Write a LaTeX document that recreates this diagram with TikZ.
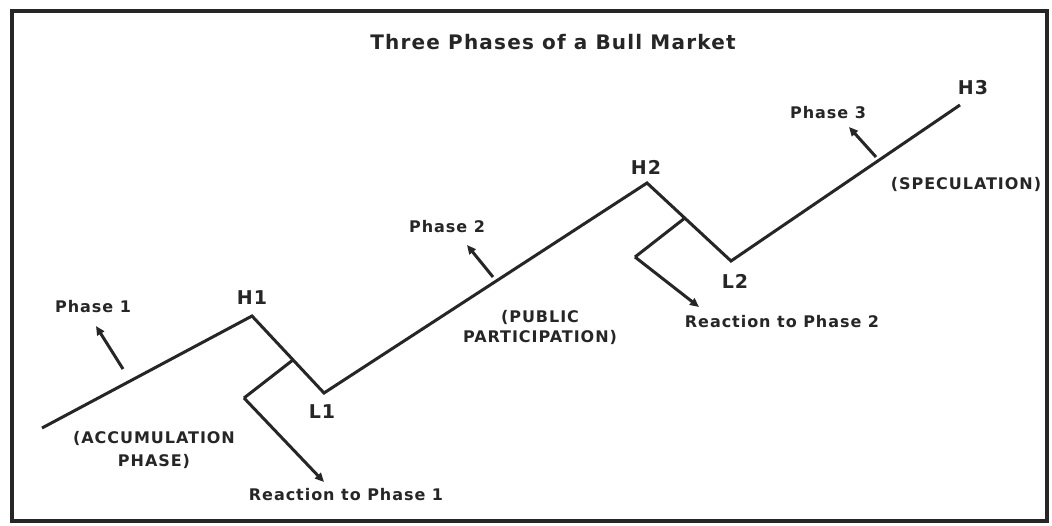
\documentclass[tikz,border=0pt]{standalone}
\usepackage{fontspec}
\setmainfont{DejaVu Sans}
\newfontfamily\lblfont[LetterSpace=6]{DejaVu Sans}
\usetikzlibrary{arrows.meta,calc}
\begin{document}
\begin{tikzpicture}[x=1pt,y=-1pt,
  trend/.style={line width=3pt,line join=miter,black!85},
  pointer/.style={line width=3pt,black!85,-{Triangle[length=9pt,width=8pt]}},
  lbl/.style={font=\lblfont\bfseries\fontsize{16}{21}\selectfont,text=black!85,inner sep=1pt,align=center},
  ptlbl/.style={font=\lblfont\bfseries\fontsize{19}{21}\selectfont,text=black!85,inner sep=1pt}]
\useasboundingbox (0,0) rectangle (1052,526);
\fill[white] (0,0) rectangle (1052,526);
\draw[line width=3.5pt,black!85] (12,11) rectangle (1047,521);
\node[font=\lblfont\bfseries\fontsize{20}{24}\selectfont,text=black!85] (title) at (553,42) {Three Phases of a Bull Market};
% main trend
\coordinate (S) at (42,428);
\coordinate (H1) at (252,316);
\coordinate (L1) at (324,393);
\coordinate (H2) at (647,183);
\coordinate (L2) at (731,261);
\coordinate (H3) at (960,105);
\draw[trend] (S) -- (H1) -- (L1) -- (H2) -- (L2) -- (H3);
% point labels
\node[ptlbl] (lH1) at (252,298) {H1};
\node[ptlbl] (lL1) at (322,412) {L1};
\node[ptlbl] (lH2) at (646,167) {H2};
\node[ptlbl] (lL2) at (735,281) {L2};
\node[ptlbl] (lH3) at (973,88) {H3};
% phase pointers
\coordinate (p1a) at (123,369);
\coordinate (p1b) at (96,326);
\draw[pointer] (p1a) -- (p1b);
\node[lbl] (ph1) at (93,307) {Phase 1};
\coordinate (p2a) at (493,277);
\coordinate (p2b) at (467,245);
\draw[pointer] (p2a) -- (p2b);
\node[lbl] (ph2) at (447,227) {Phase 2};
\coordinate (p3a) at (876,157);
\coordinate (p3b) at (849,127);
\draw[pointer] (p3a) -- (p3b);
\node[lbl] (ph3) at (828,113) {Phase 3};
% phase descriptions
\node[lbl,font=\lblfont\bfseries\fontsize{16}{23}\selectfont] (acc) at (154,450) {(ACCUMULATION\\PHASE)};
\node[lbl,font=\lblfont\bfseries\fontsize{16}{20}\selectfont] (pub) at (540,327) {(PUBLIC\\PARTICIPATION)};
\node[lbl] (spec) at (966,184) {(SPECULATION)};
% reactions
\coordinate (r1j) at ($(H1)!0.57!(L1)$);
\coordinate (r1c) at (244,398);
\coordinate (r1t) at (324,482);
\draw[trend] (r1j) -- (r1c);
\draw[pointer] (r1c) -- (r1t);
\node[lbl] (rx1) at (346,495) {Reaction to Phase 1};
\coordinate (r2j) at ($(H2)!0.45!(L2)$);
\coordinate (r2c) at (635,257);
\coordinate (r2t) at (699,307);
\draw[trend] (r2j) -- (r2c);
\draw[pointer] (r2c) -- (r2t);
\node[lbl] (rx2) at (782,322) {Reaction to Phase 2};
\end{tikzpicture}
\end{document}
